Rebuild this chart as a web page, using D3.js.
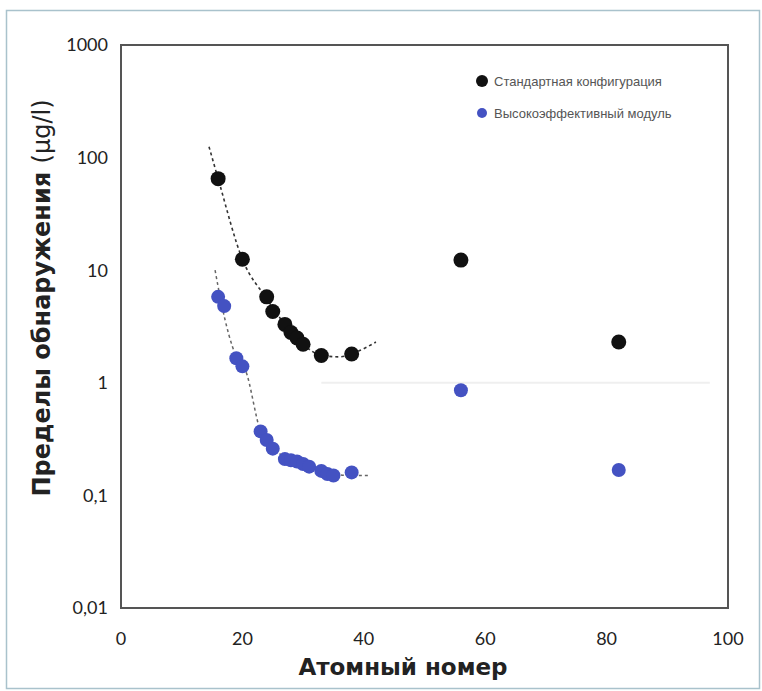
<!DOCTYPE html>
<html>
<head>
<meta charset="utf-8">
<script src="https://cdn.jsdelivr.net/npm/d3@7"></script>
<style>
  body { margin: 0; background: #fff; }
  svg { display: block; }
</style>
</head>
<body>
<div id="chart"></div>
<script>
// данные
const stdX = [16, 20, 24, 25, 27, 28, 29, 30, 33, 38, 56, 82];
const stdY = [65, 12.5, 5.8, 4.3, 3.3, 2.8, 2.5, 2.2, 1.75, 1.8, 12.3, 2.3];

const hiX = [16, 17, 19, 20, 23, 24, 25, 27, 28, 29, 30, 31, 33, 34, 35, 38, 56, 82];
const hiY = [5.8, 4.8, 1.65, 1.4, 0.37, 0.31, 0.26, 0.21, 0.205, 0.2, 0.19, 0.18, 0.165, 0.155, 0.15, 0.16, 0.86, 0.168];

// пунктирные линии тренда
const stdTrendX = [14.5, 16, 20, 24, 27, 30, 33, 36, 39, 42];
const stdTrendY = [125, 65, 12.5, 5.6, 3.3, 2.2, 1.75, 1.7, 1.9, 2.3];
const hiTrendX = [15.5, 16.5, 19, 20.5, 23, 25, 28, 32, 35, 38, 41];
const hiTrendY = [10, 5.2, 1.7, 1.3, 0.37, 0.27, 0.2, 0.175, 0.155, 0.15, 0.15];

const xTicks = [0, 20, 40, 60, 80, 100];
const yTicks = [0.01, 0.1, 1, 10, 100, 1000];
const yTickLabels = ["0,01", "0,1", "1", "10", "100", "1000"];

const legendLabels = ["Стандартная конфигурация", "Высокоэффективный модуль"];
const colors = ["#111111", "#4452c2"];

const W = 762, H = 691;
const svg = d3.select("#chart").append("svg")
    .attr("width", W).attr("height", H);

// внешняя рамка
svg.append("rect")
    .attr("x", 6.5).attr("y", 10.5)
    .attr("width", 753).attr("height", 678)
    .attr("fill", "#fff")
    .attr("stroke", "#a9c2cc")
    .attr("stroke-width", 1.5);

const x = d3.scaleLinear().domain([0, 100]).range([121, 728]);
const y = d3.scaleLog().domain([0.01, 1000]).range([608, 45]);

// бледная линия-артефакт на уровне 1
svg.append("line")
    .attr("x1", x(33)).attr("x2", x(97))
    .attr("y1", y(1)).attr("y2", y(1))
    .attr("stroke", "#efefef").attr("stroke-width", 2);

// рамка области построения
svg.append("rect")
    .attr("x", x(0)).attr("y", y(1000))
    .attr("width", x(100) - x(0)).attr("height", y(0.01) - y(1000))
    .attr("fill", "none")
    .attr("stroke", "#555")
    .attr("stroke-width", 2);

const tickFont = "Lato, 'DejaVu Sans', sans-serif";

svg.append("g").selectAll("text")
    .data(yTicks)
    .enter().append("text")
    .attr("x", 108)
    .attr("y", d => y(d))
    .attr("dy", "0.35em")
    .attr("text-anchor", "end")
    .style("font-family", tickFont)
    .style("font-size", "18px")
    .style("fill", "#222")
    .text((d, i) => yTickLabels[i]);

svg.append("g").selectAll("text")
    .data(xTicks)
    .enter().append("text")
    .attr("x", d => x(d))
    .attr("y", 645)
    .attr("text-anchor", "middle")
    .style("font-family", tickFont)
    .style("font-size", "18px")
    .style("fill", "#222")
    .text(d => d);

svg.append("text")
    .attr("x", 403).attr("y", 675)
    .attr("text-anchor", "middle")
    .style("font-family", "'DejaVu Sans', sans-serif")
    .style("font-weight", "bold")
    .style("font-size", "23px")
    .style("fill", "#222")
    .text("Атомный номер");

const ylab = svg.append("text")
    .attr("transform", "translate(50,298) rotate(-90)")
    .attr("text-anchor", "middle")
    .style("font-family", "'DejaVu Sans', sans-serif")
    .style("font-size", "24px")
    .style("fill", "#222");
ylab.append("tspan").style("font-weight", "bold").text("Пределы обнаружения ");
ylab.append("tspan").text("(µg/l)");

// линии тренда
const line = d3.line()
    .x(d => x(d[0]))
    .y(d => y(d[1]))
    .curve(d3.curveMonotoneX);

svg.append("path")
    .datum(d3.zip(stdTrendX, stdTrendY))
    .attr("d", line)
    .attr("fill", "none")
    .attr("stroke", "#333")
    .attr("stroke-width", 1.6)
    .attr("stroke-dasharray", "3,3");

svg.append("path")
    .datum(d3.zip(hiTrendX, hiTrendY))
    .attr("d", line)
    .attr("fill", "none")
    .attr("stroke", "#666")
    .attr("stroke-width", 1.5)
    .attr("stroke-dasharray", "3,3");

// точки
svg.append("g").selectAll("circle")
    .data(d3.zip(hiX, hiY))
    .enter().append("circle")
    .attr("cx", d => x(d[0]))
    .attr("cy", d => y(d[1]))
    .attr("r", 7)
    .attr("fill", colors[1]);

svg.append("g").selectAll("circle")
    .data(d3.zip(stdX, stdY))
    .enter().append("circle")
    .attr("cx", d => x(d[0]))
    .attr("cy", d => y(d[1]))
    .attr("r", 7.5)
    .attr("fill", colors[0]);

// легенда
const legend = svg.append("g").selectAll("g")
    .data(legendLabels)
    .enter().append("g")
    .attr("transform", (d, i) => `translate(482,${81 + i * 32})`);

legend.append("circle")
    .attr("r", (d, i) => i === 0 ? 6 : 5)
    .attr("fill", (d, i) => colors[i]);

legend.append("text")
    .attr("x", 12)
    .attr("dy", "0.35em")
    .style("font-family", "'Liberation Sans', Arial, sans-serif")
    .style("font-size", "13px")
    .style("fill", "#555")
    .text(d => d);
</script>
</body>
</html>
